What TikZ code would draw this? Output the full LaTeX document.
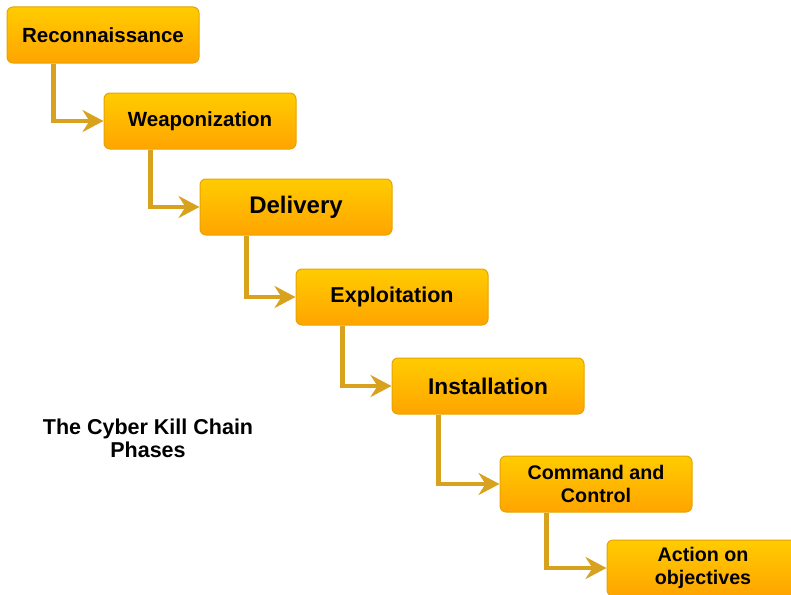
\documentclass[tikz,border=0pt]{standalone}
\usepackage{fontspec}
\setmainfont{Liberation Sans}
\usetikzlibrary{arrows.meta}
\definecolor{phasetop}{HTML}{FFCC00}
\definecolor{phasebottom}{HTML}{FFA400}
\definecolor{phaseedge}{HTML}{E6A400}
\definecolor{chainline}{HTML}{D8A21E}
\newcommand{\phasefont}[1]{\fontsize{#1}{23}\selectfont\bfseries}

\begin{document}
\begin{tikzpicture}[x=1pt, y=-1pt,
        phase/.style={draw=phaseedge, line width=1pt, rounded corners=6pt,
            top color=phasetop, bottom color=phasebottom,
            minimum width=192pt, minimum height=56pt, inner sep=0pt, align=center},
        chainarrow/.style={draw=chainline, line width=4.5pt,
            -{Stealth[length=21pt, width=22pt, inset=7pt]}}]
        \useasboundingbox (0,0) rectangle (791,594);
        \clip (0,0) rectangle (791,594);
        \pgfmathsetmacro{\drop}{47}
        \node [phase, font=\phasefont{20.5}] (recon) at (103,35) {Reconnaissance};
        \node [phase, font=\phasefont{20.5}] (weapon) at (200,121) {Weaponization};
        \node [phase, font=\phasefont{24}] (delivery) at (296,207) {Delivery};
        \node [phase, font=\phasefont{21.5}] (exploit) at (392,297) {Exploitation};
        \node [phase, font=\phasefont{22.7}] (install) at (488,386) {Installation};
        \node [phase, font=\phasefont{19.7}] (control) at (596,484) {Command and\\Control};
        \node [phase, font=\phasefont{19.7}] (action) at (703,568) {Action on\\objectives};
        \foreach \a/\b in {recon/weapon, weapon/delivery, delivery/exploit, exploit/install, install/control, control/action}{
                \draw [chainarrow] ([xshift=\drop pt]\a.south west) |- (\b.west);
            }
        \node [align=center, font=\phasefont{21.5}] (title) at (148,438) {The Cyber Kill Chain\\Phases};
    \end{tikzpicture}
\end{document}
